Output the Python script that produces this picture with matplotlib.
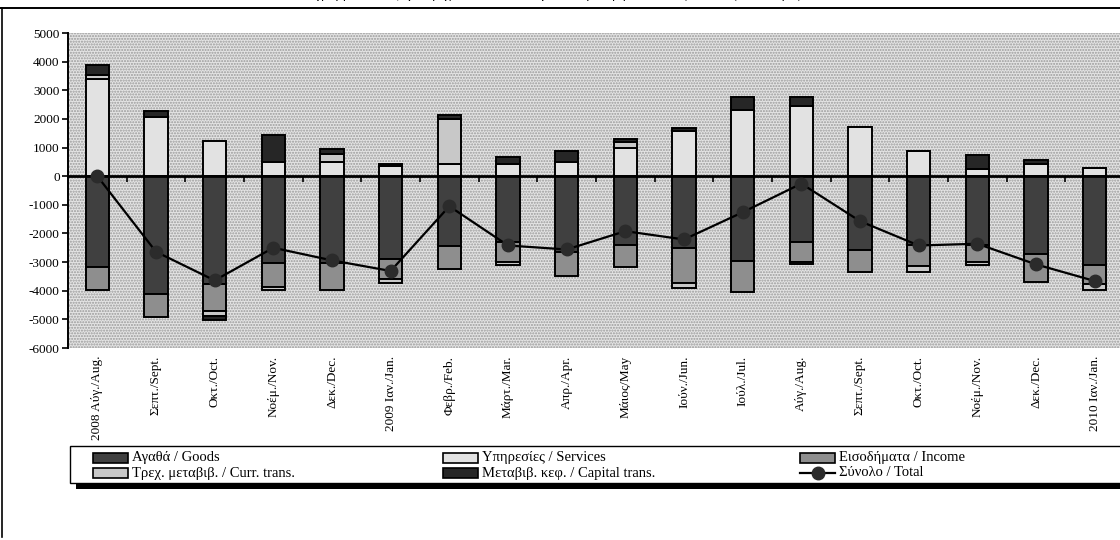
import matplotlib
matplotlib.use("Agg")
import matplotlib.pyplot as plt
from matplotlib.patches import Rectangle
from matplotlib.lines import Line2D
import numpy as np

plt.rcParams["font.family"] = ["Liberation Serif", "DejaVu Serif"]
plt.rcParams["axes.unicode_minus"] = False
plt.rcParams["hatch.linewidth"] = 1.0

# monthly data, million euro
months = ["2008 Αύγ./Aug.", "Σεπτ./Sept.", "Οκτ./Oct.", "Νοέμ./Nov.", "Δεκ./Dec.",
          "2009 Ιαν./Jan.", "Φεβρ./Feb.", "Μάρτ./Mar.", "Απρ./Apr.", "Μάιος/May",
          "Ιούν./Jun.", "Ιούλ./Jul.", "Αύγ./Aug.", "Σεπτ./Sept.", "Οκτ./Oct.",
          "Νοέμ./Nov.", "Δεκ./Dec.", "2010 Ιαν./Jan."]
goods = [-3155, -4100, -3750, -3025, -3025, -2880, -2435, -2295, -2650,
         -2415, -2505, -2945, -2295, -2590, -2400, -2400, -2710, -3095]
services = [3380, 2070, 1220, 500, 500, 350, 430, 430, 490,
            990, 1570, 2300, 2440, 1730, 870, 256, 430, 270]
income = [-825, -820, -970, -860, -955, -710, -800, -705, -825,
          -760, -1235, -1115, -685, -740, -740, -580, -975, -670]
curr_trans = [170, 0, -150, -95, 260, -150, 1570, -95, 0,
              200, -170, 0, -80, 0, -210, -115, 0, -200]
capital_trans = [350, 200, -140, 950, 190, 90, 150, 230, 380,
                 110, 100, 450, 310, 0, 0, 480, 150, 0]
total = [0, -2640, -3640, -2500, -2940, -3310, -1050, -2420, -2560,
         -1920, -2210, -1260, -260, -1570, -2420, -2360, -3080, -3660]

series = [
    ("Αγαθά / Goods", goods, "#404040"),
    ("Υπηρεσίες / Services", services, "#e2e2e2"),
    ("Εισοδήματα / Income", income, "#8e8e8e"),
    ("Τρεχ. μεταβιβ. / Curr. trans.", curr_trans, "#c8c8c8"),
    ("Μεταβιβ. κεφ. / Capital trans.", capital_trans, "#262626"),
]

W, H = 1120, 540
fig = plt.figure(figsize=(W / 100, H / 100), dpi=100)
ax = fig.add_axes([68 / W, 1 - 348 / H, (1124 - 68) / W, (348 - 33) / H])

x = np.arange(len(months))

# dotted background
bg = Rectangle((0, 0), 1, 1, transform=ax.transAxes, facecolor="#e4e4e4",
               edgecolor="#9a9a9a", hatch="......", lw=0, zorder=0)
ax.add_patch(bg)

pos_bottom = np.zeros(len(x))
neg_bottom = np.zeros(len(x))
for name, vals, col in series:
    v = np.array(vals, dtype=float)
    bottom = np.where(v >= 0, pos_bottom, neg_bottom)
    ax.bar(x, v, 0.4, bottom=bottom, color=col, edgecolor="black", lw=1.4, zorder=2)
    pos_bottom += np.where(v > 0, v, 0)
    neg_bottom += np.where(v < 0, v, 0)

ax.plot(x, total, color="black", lw=1.6, marker="o", ms=9,
        mfc="#2b2b2b", mec="#2b2b2b", zorder=5)

ax.set_xlim(-0.5, len(x) - 0.5)
ax.set_ylim(-6000, 5000)
ax.set_yticks(range(-6000, 5001, 1000))
ax.tick_params(axis="y", direction="out", length=4, width=1.2, labelsize=9.5, pad=2)

for s in ["top", "right"]:
    ax.spines[s].set_visible(False)
ax.spines["left"].set_linewidth(1.4)
ax.spines["bottom"].set_position(("data", 0))
ax.spines["bottom"].set_linewidth(2)
ax.spines["bottom"].set_zorder(4)
ax.set_xticks(x)
ax.set_xticks(x[:-1] + 0.5, minor=True)
ax.tick_params(axis="x", which="major", length=0, labelbottom=False)
ax.tick_params(axis="x", which="minor", direction="out", length=4, width=1.2)

for i, m in enumerate(months):
    ax.text(i, -0.025, m, transform=ax.get_xaxis_transform(), rotation=90,
            ha="center", va="top", fontsize=9.5)

# title, cut at the top edge of the picture (only descenders show)
fig.text(0.49, 1 + 2 / H, "Διάγραμμα 1. Ισοζύγιο τρεχουσών συναλλαγών και μεταβιβάσεων κεφαλαίου (εκατ. ευρώ)",
         ha="center", va="baseline", fontsize=10)

# frame lines
fig.add_artist(Line2D([0, 1], [1 - 8 / H, 1 - 8 / H], color="black", lw=1.4))
fig.add_artist(Line2D([2 / W, 2 / W], [1 - 8 / H, 3 / H], color="black", lw=1.2))


def px(xp, yp):
    return xp / W, 1 - yp / H


# legend box with shadow
box_top, box_bot = 446, 483
x0, y0 = px(70, box_bot)
fig.add_artist(Rectangle((76 / W, 1 - (box_bot + 6) / H), (W - 76) / W + 0.01, 6 / H,
                         facecolor="black", edgecolor="none"))
fig.add_artist(Rectangle((x0, y0), 1.1, (box_bot - box_top) / H,
                         facecolor="white", edgecolor="black", lw=1.0))

rows = [458, 473]
cols = [93, 443, 800]
entries = [(series[0], 0, 0), (series[1], 0, 1), (series[2], 0, 2),
           (series[3], 1, 0), (series[4], 1, 1)]
for (name, vals, col), r, c in entries:
    xl, yl = px(cols[c], rows[r] + 5)
    fig.add_artist(Rectangle((xl, yl), 35 / W, 10 / H, facecolor=col,
                             edgecolor="black", lw=1.2))
    fig.text((cols[c] + 39) / W, 1 - rows[r] / H, name, ha="left", va="center", fontsize=10.5)

lx = [cols[2] / W, (cols[2] + 35) / W]
ly = [1 - rows[1] / H] * 2
fig.add_artist(Line2D(lx, ly, color="black", lw=1.6))
fig.add_artist(Line2D([(cols[2] + 17.5) / W], [ly[0]], marker="o", ms=9,
                      mfc="#2b2b2b", mec="#2b2b2b", lw=0))
fig.text((cols[2] + 39) / W, 1 - rows[1] / H, "Σύνολο / Total", ha="left", va="center", fontsize=10.5)

fig.savefig("out.png", dpi=100)
